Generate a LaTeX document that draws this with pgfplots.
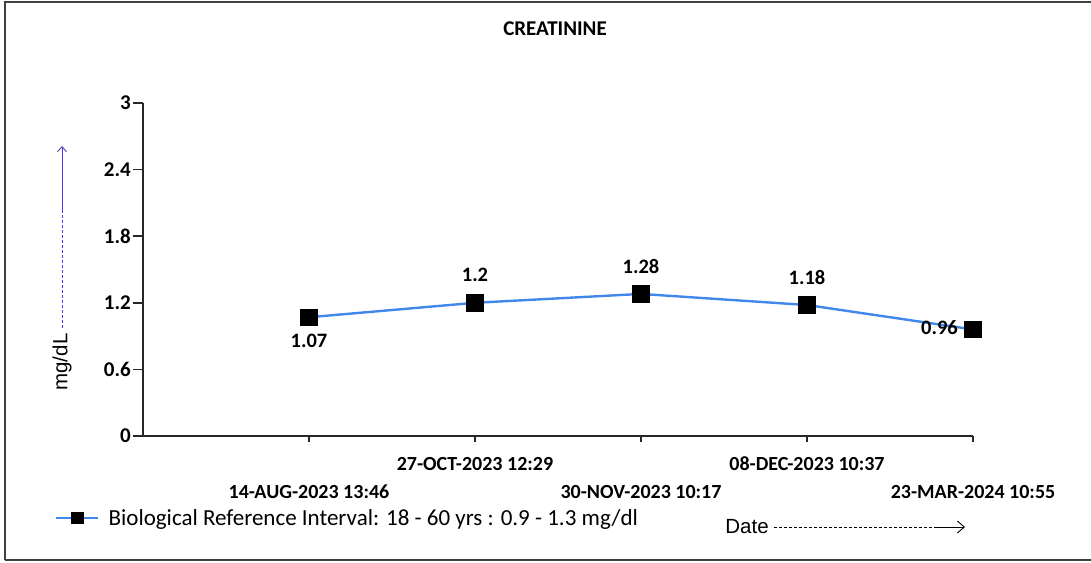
\documentclass[border=0pt]{standalone}
\usepackage{pgfplots}
\pgfplotsset{compat=1.18}
\usepackage{fontspec}
\setmainfont{Carlito}
\newfontfamily\arialfont{Liberation Sans}
\usetikzlibrary{arrows.meta}
\definecolor{lineblue}{RGB}{66,135,235}
\definecolor{arrowblue}{RGB}{75,70,165}
\begin{document}
\begin{tikzpicture}[x=1pt,y=1pt]
\useasboundingbox (0,0) rectangle (1091,562);
\draw[line width=1.5pt, black!75] (5,2) -- (5,560) -- (1091,560);
\draw[line width=1.5pt, black!75] (5,2) -- (1091,2);
\node[font=\fontsize{21}{23}\selectfont\bfseries] at (555,533) {CREATININE};
% y axis label
\node[rotate=90, font=\arialfont\fontsize{20.5}{22}\selectfont] at (62,200) {mg/dL};
\draw[arrowblue, line width=0.9pt, dash pattern=on 3pt off 2pt] (62,234) -- (62,349);
\draw[arrowblue, line width=0.9pt, -{Straight Barb[length=5pt,width=9pt]}] (62,349) -- (62,416);
% x axis label
\node[font=\arialfont\fontsize{20.5}{22}\selectfont] at (747,35) {Date};
\draw[black, line width=0.9pt, dash pattern=on 3pt off 2pt] (774,35) -- (935,35);
\draw[black, line width=0.9pt, -{Straight Barb[length=7pt,width=12pt]}] (935,35) -- (965,35);
\begin{axis}[
  at={(143pt,126pt)}, anchor=south west,
  scale only axis, width=830pt, height=333pt,
  xmin=0, xmax=5, ymin=0, ymax=3,
  axis x line*=bottom, axis y line*=left,
  axis line style={-, line width=1.5pt, black!85},
  xtick=\empty,
  ytick={0,0.6,1.2,1.8,2.4,3},
  yticklabels={0,0.6,1.2,1.8,2.4,3},
  tick align=outside, major tick length=10pt,
  tick style={black!85, line width=1.5pt},
  yticklabel style={font=\fontsize{21}{23}\selectfont\bfseries, inner sep=2pt},
  clip=false,
  legend style={at={(axis description cs:-0.106,-0.246)}, anchor=west, draw=none, fill=none,
    font=\fontsize{23}{25}\selectfont, inner sep=0pt, nodes={inner sep=0pt, text depth=0pt}},
  legend cell align=left,
  legend image code/.code={%
    \draw[#1, mark=none] (-21pt,0pt) -- (21pt,0pt);
    \draw[#1, mark size=5pt, mark repeat=1] plot coordinates {(0pt,0pt)};
  },
]
\addplot[lineblue, line width=2.4pt, mark=square*, mark options={black, fill=black, solid}, mark size=7.5pt]
  coordinates {(1,1.07)(2,1.2)(3,1.28)(4,1.18)(5,0.96)};
\addlegendentry{\hspace{9pt}Biological Reference Interval: 18 - 60 yrs : 0.9 - 1.3 mg/dl}
\pgfplotsinvokeforeach{1,...,5}{\draw[black!85, line width=1.5pt] (axis cs:#1,0) -- ++(0pt,-6pt);}
% data labels
\begin{scope}[every node/.style={font=\fontsize{20.5}{22}\selectfont\bfseries}]
\node at (axis cs:1,1.07) [yshift=-24pt] {1.07};
\node at (axis cs:2,1.2) [yshift=28pt] {1.2};
\node at (axis cs:3,1.28) [yshift=27pt] {1.28};
\node at (axis cs:4,1.18) [yshift=28pt] {1.18};
\node[anchor=east, inner sep=0pt] at (axis cs:5,0.96) [xshift=-15pt, yshift=2pt] {0.96};
% date labels
\begin{scope}[every node/.style={font=\fontsize{20}{22}\selectfont\bfseries}]
\node at (axis cs:1,0) [yshift=-56pt] {14-AUG-2023 13:46};
\node at (axis cs:2,0) [yshift=-28pt] {27-OCT-2023 12:29};
\node at (axis cs:3,0) [yshift=-56pt] {30-NOV-2023 10:17};
\node at (axis cs:4,0) [yshift=-28pt] {08-DEC-2023 10:37};
\node at (axis cs:5,0) [yshift=-56pt] {23-MAR-2024 10:55};
\end{scope}
\end{scope}
\end{axis}
\end{tikzpicture}
\end{document}
